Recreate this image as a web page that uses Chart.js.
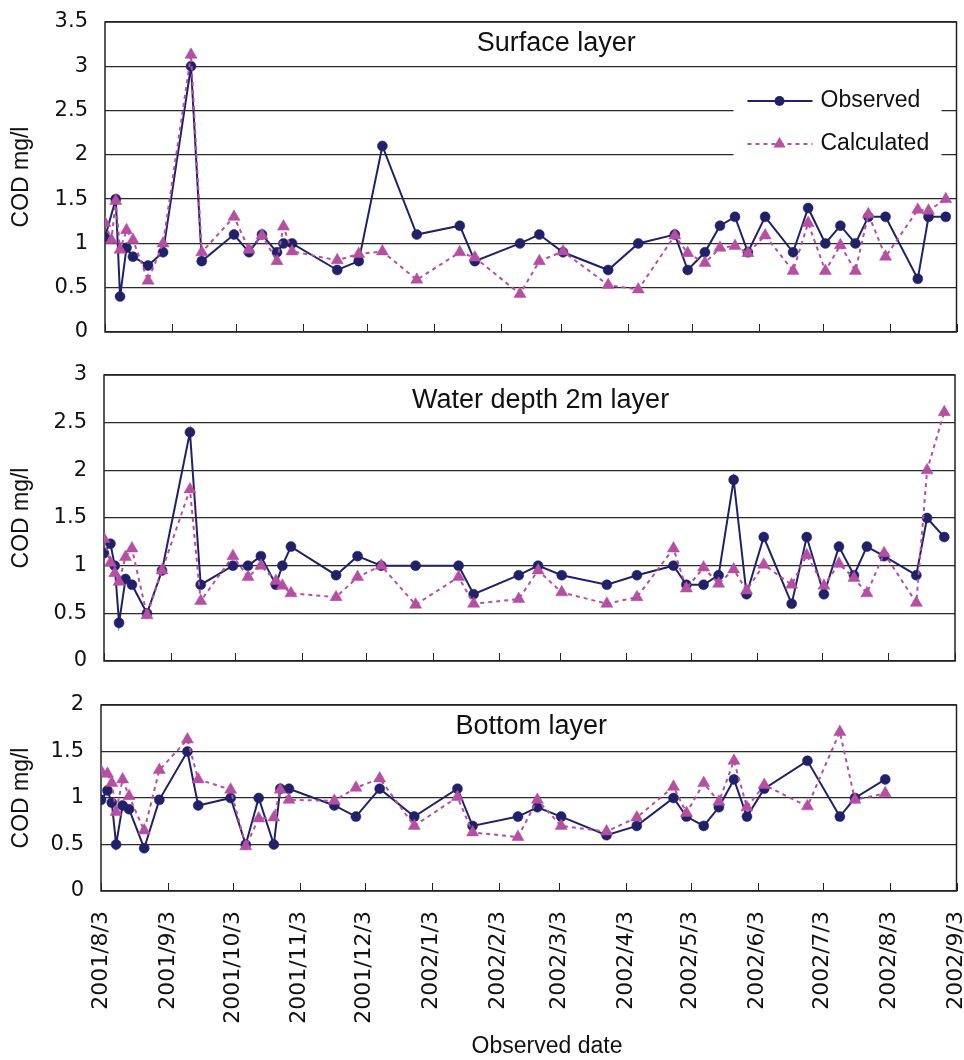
<!DOCTYPE html>
<html>
<head>
<meta charset="utf-8">
<script src="https://cdn.jsdelivr.net/npm/chart.js@4.4.1/dist/chart.umd.min.js"></script>
<style>
  body { margin: 0; background: #fff; }
  #wrap { position: relative; width: 964px; height: 1060px; }
  canvas { position: absolute; left: 0; }
</style>
</head>
<body>
<div id="wrap">
  <canvas id="surface" width="964" height="350" style="top:0"></canvas>
  <canvas id="depth2m" width="964" height="330" style="top:350px"></canvas>
  <canvas id="bottom" width="964" height="380" style="top:680px"></canvas>
</div>
<script>
// sampling dates (shared by the three layers)
const sampleDates = [
  '2001/8/3', '2001/8/6', '2001/8/8', '2001/8/10', '2001/8/13', '2001/8/16', '2001/8/23', '2001/8/30',
  '2001/9/12', '2001/9/17',
  '2001/10/2', '2001/10/9', '2001/10/15', '2001/10/22', '2001/10/25', '2001/10/29',
  '2001/11/19', '2001/11/29', '2001/12/10', '2001/12/26',
  '2002/1/15', '2002/1/22', '2002/2/12', '2002/2/21', '2002/3/4', '2002/3/25', '2002/4/8',
  '2002/4/25', '2002/5/1', '2002/5/9', '2002/5/16', '2002/5/23', '2002/5/29', '2002/6/6',
  '2002/6/19', '2002/6/26', '2002/7/4', '2002/7/11', '2002/7/18', '2002/7/24', '2002/8/1',
  '2002/8/16', '2002/8/21', '2002/8/29'
];

const tickDates = [
  '2001/8/3', '2001/9/3', '2001/10/3', '2001/11/3', '2001/12/3', '2002/1/3', '2002/2/3',
  '2002/3/3', '2002/4/3', '2002/5/3', '2002/6/3', '2002/7/3', '2002/8/3', '2002/9/3'
];

const surfaceObserved = [1.07, null, 1.5, 0.4, 0.95, 0.85, 0.75, 0.9, 3.0, 0.8, 1.1, 0.9, 1.1, 0.9, 1.0, 1.0,
  0.7, 0.8, 2.1, 1.1, 1.2, 0.8, 1.0, 1.1, 0.9, 0.7, 1.0, 1.1, 0.7, 0.9, 1.2, 1.3, 0.9, 1.3,
  0.9, 1.4, 1.0, 1.2, 1.0, 1.3, 1.3, 0.6, 1.3, 1.3];
const surfaceCalculated = [1.23, 1.04, 1.48, 0.93, 1.15, 1.04, 0.58, 1.0, 3.13, 0.9, 1.3, 0.93, 1.09, 0.8, 1.19, 0.91,
  0.81, 0.88, 0.91, 0.59, 0.9, 0.84, 0.43, 0.8, 0.91, 0.53, 0.48, 1.09, 0.89, 0.78, 0.95, 0.97, 0.89, 1.09,
  0.69, 1.23, 0.69, 0.98, 0.69, 1.33, 0.85, 1.38, 1.37, 1.5];

const depthObserved = [1.13, 1.23, 1.0, 0.4, 0.86, 0.8, 0.5, 0.95, 2.4, 0.8, 1.0, 1.0, 1.1, 0.8, 1.0, 1.2,
  0.9, 1.1, 1.0, 1.0, 1.0, 0.7, 0.9, 1.0, 0.9, 0.8, 0.9, 1.0, 0.8, 0.8, 0.9, 1.9, 0.7, 1.3,
  0.6, 1.3, 0.7, 1.2, 0.9, 1.2, 1.1, 0.9, 1.5, 1.3];
const depthCalculated = [1.28, 1.03, 0.92, 0.83, 1.09, 1.18, 0.48, 0.95, 1.8, 0.63, 1.1, 0.88, 1.0, 0.84, 0.79, 0.71,
  0.67, 0.88, 1.0, 0.59, 0.88, 0.6, 0.65, 0.95, 0.72, 0.6, 0.67, 1.18, 0.76, 0.98, 0.81, 0.96, 0.74, 1.01,
  0.8, 1.11, 0.79, 1.02, 0.87, 0.71, 1.13, 0.61, 2.0, 2.61];

const bottomObserved = [0.98, 1.08, 0.95, 0.5, 0.92, 0.88, 0.46, 0.98, 1.5, 0.92, 1.0, 0.5, 1.0, 0.5, 1.1, 1.1,
  0.92, 0.8, 1.1, 0.8, 1.1, 0.7, 0.8, 0.9, 0.8, 0.6, 0.7, 1.0, 0.8, 0.7, 0.9, 1.2, 0.8, 1.1,
  null, 1.4, null, 0.8, 1.0, null, 1.2, null, null, null];
const bottomCalculated = [1.29, 1.26, 1.16, 0.85, 1.2, 1.02, 0.65, 1.3, 1.63, 1.2, 1.09, 0.48, 0.78, 0.79, 1.09, 0.98,
  0.97, 1.11, 1.21, 0.7, 1.01, 0.63, 0.58, 0.98, 0.7, 0.64, 0.79, 1.12, 0.84, 1.16, 0.96, 1.4, 0.9, 1.14,
  null, 0.91, null, 1.71, 0.98, null, 1.05, null, null, null];

// days since 2001/8/3
const baseDay = Date.UTC(2001, 7, 3);
function dayOf(s) {
  const [y, m, d] = s.split('/').map(Number);
  return (Date.UTC(y, m - 1, d) - baseDay) / 86400000;
}
const sampleDays = sampleDates.map(dayOf);
const tickDays = tickDates.map(dayOf);

const OBS = '#21216a';
const CALC = '#b54fa2';
const INK = '#111';

function drawTriangle(ctx, x, y, r) {
  ctx.beginPath();
  for (let k = 0; k < 3; k++) {
    const a = -Math.PI / 2 + k * 2 * Math.PI / 3;
    const px = x + Math.cos(a) * r, py = y + Math.sin(a) * r;
    k ? ctx.lineTo(px, py) : ctx.moveTo(px, py);
  }
  ctx.closePath();
  ctx.fill();
}

// plot frame, inside tick marks, panel title, legend
const panelDecor = {
  id: 'panelDecor',
  beforeDatasetsDraw(chart, args, opts) {
    const { ctx, chartArea: a } = chart;
    const xs = chart.scales.x;
    ctx.save();
    ctx.strokeStyle = '#222';
    ctx.lineWidth = 1.5;
    ctx.strokeRect(a.left, a.top, a.right - a.left, a.bottom - a.top);
    ctx.beginPath();
    tickDays.forEach(v => {
      const px = Math.round(xs.getPixelForValue(v)) + 0.5;
      ctx.moveTo(px, a.bottom);
      ctx.lineTo(px, a.bottom - 8);
    });
    ctx.lineWidth = 1;
    ctx.stroke();
    ctx.font = '27px "Liberation Sans"';
    ctx.fillStyle = INK;
    ctx.textAlign = 'center';
    ctx.textBaseline = 'middle';
    ctx.fillText(opts.title, a.left + (a.right - a.left) * opts.titleX, a.top + opts.titleY);
    if (opts.xTitle) {
      ctx.font = '23px "Liberation Sans"';
      ctx.fillText(opts.xTitle, opts.xTitleX, chart.height - 13);
    }
    ctx.restore();
  },
  afterDatasetsDraw(chart, args, opts) {
    if (!opts.legend) return;
    const { ctx, chartArea: a } = chart;
    const bx = a.right - 223;
    ctx.save();
    ctx.fillStyle = '#fff';
    ctx.fillRect(bx, a.top + 56, 208, 92);
    const rows = [
      { text: 'Observed', color: OBS, y: a.top + 79, dash: [], tri: false },
      { text: 'Calculated', color: CALC, y: a.top + 122, dash: [4, 4], tri: true }
    ];
    rows.forEach(r => {
      ctx.strokeStyle = r.color;
      ctx.fillStyle = r.color;
      ctx.lineWidth = 2;
      ctx.setLineDash(r.dash);
      ctx.beginPath();
      ctx.moveTo(bx + 14, r.y);
      ctx.lineTo(bx + 79, r.y);
      ctx.stroke();
      ctx.setLineDash([]);
      if (r.tri) {
        drawTriangle(ctx, bx + 46, r.y, 7);
      } else {
        ctx.beginPath();
        ctx.arc(bx + 46, r.y, 5, 0, Math.PI * 2);
        ctx.fill();
      }
      ctx.fillStyle = INK;
      ctx.font = '23px "Liberation Sans"';
      ctx.textAlign = 'left';
      ctx.textBaseline = 'middle';
      ctx.fillText(r.text, bx + 87, r.y);
    });
    ctx.restore();
  }
};

function makePanel(id, cfg) {
  const toPoints = vals => sampleDays.map((x, i) => ({ x, y: vals[i] }));
  return new Chart(document.getElementById(id), {
    type: 'line',
    data: {
      datasets: [{
        label: 'Observed',
        data: toPoints(cfg.observed),
        borderColor: OBS,
        backgroundColor: OBS,
        borderWidth: 2,
        pointStyle: 'circle',
        pointRadius: 5,
        pointBackgroundColor: OBS,
        pointBorderColor: OBS,
        pointBorderWidth: 0.5,
        spanGaps: true,
        order: 1
      }, {
        label: 'Calculated',
        data: toPoints(cfg.calculated),
        borderColor: CALC,
        backgroundColor: CALC,
        borderWidth: 2,
        borderDash: [4, 4],
        pointStyle: 'triangle',
        pointRadius: 7,
        pointBackgroundColor: CALC,
        pointBorderColor: CALC,
        pointBorderWidth: 0.5,
        spanGaps: true,
        order: 0
      }]
    },
    options: {
      responsive: false,
      animation: false,
      events: [],
      layout: { padding: { top: cfg.top, right: cfg.right, bottom: 0, left: 0 } },
      plugins: {
        legend: { display: false },
        tooltip: { enabled: false },
        panelDecor: {
          title: cfg.title, titleX: cfg.titleX, titleY: cfg.titleY,
          legend: cfg.legend, xTitle: cfg.xTitle, xTitleX: 547
        }
      },
      scales: {
        x: {
          type: 'linear',
          min: 0,
          max: tickDays[tickDays.length - 1],
          afterBuildTicks: s => { s.ticks = tickDays.map(v => ({ value: v })); },
          afterFit: s => {
            s.height = cfg.xHeight;
            s.paddingLeft = 0;
            s.paddingRight = 0;
          },
          grid: { display: false, drawTicks: false },
          border: { display: false },
          ticks: {
            display: !!cfg.showDates,
            autoSkip: false,
            minRotation: 90,
            maxRotation: 90,
            padding: 20,
            color: INK,
            font: { family: 'DejaVu Sans', size: 22 },
            callback: (v, i) => tickDates[i]
          }
        },
        y: {
          min: 0,
          max: cfg.max,
          afterFit: s => {
            s.width = cfg.left;
            s.paddingTop = 0;
            s.paddingBottom = 0;
          },
          grid: { color: '#2a2a2a', lineWidth: 1.3, drawTicks: false },
          border: { display: false },
          ticks: {
            stepSize: 0.5,
            padding: 17,
            color: INK,
            font: { family: 'DejaVu Sans', size: 21 },
            callback: v => String(v)
          },
          title: {
            display: true,
            text: 'COD mg/l',
            color: INK,
            font: { family: 'Liberation Sans', size: 23 },
            padding: { top: 8, bottom: 0 }
          }
        }
      }
    },
    plugins: [panelDecor]
  });
}

makePanel('surface', {
  observed: surfaceObserved, calculated: surfaceCalculated, max: 3.5,
  top: 22, right: 7, left: 105, xHeight: 18,
  title: 'Surface layer', titleX: 0.53, titleY: 22, legend: true
});
makePanel('depth2m', {
  observed: depthObserved, calculated: depthCalculated, max: 3,
  top: 25, right: 9, left: 104, xHeight: 19,
  title: 'Water depth 2m layer', titleX: 0.513, titleY: 26
});
makePanel('bottom', {
  observed: bottomObserved, calculated: bottomCalculated, max: 2,
  top: 25, right: 7, left: 101, xHeight: 169,
  title: 'Bottom layer', titleX: 0.503, titleY: 22,
  showDates: true, xTitle: 'Observed date'
});
</script>
</body>
</html>
